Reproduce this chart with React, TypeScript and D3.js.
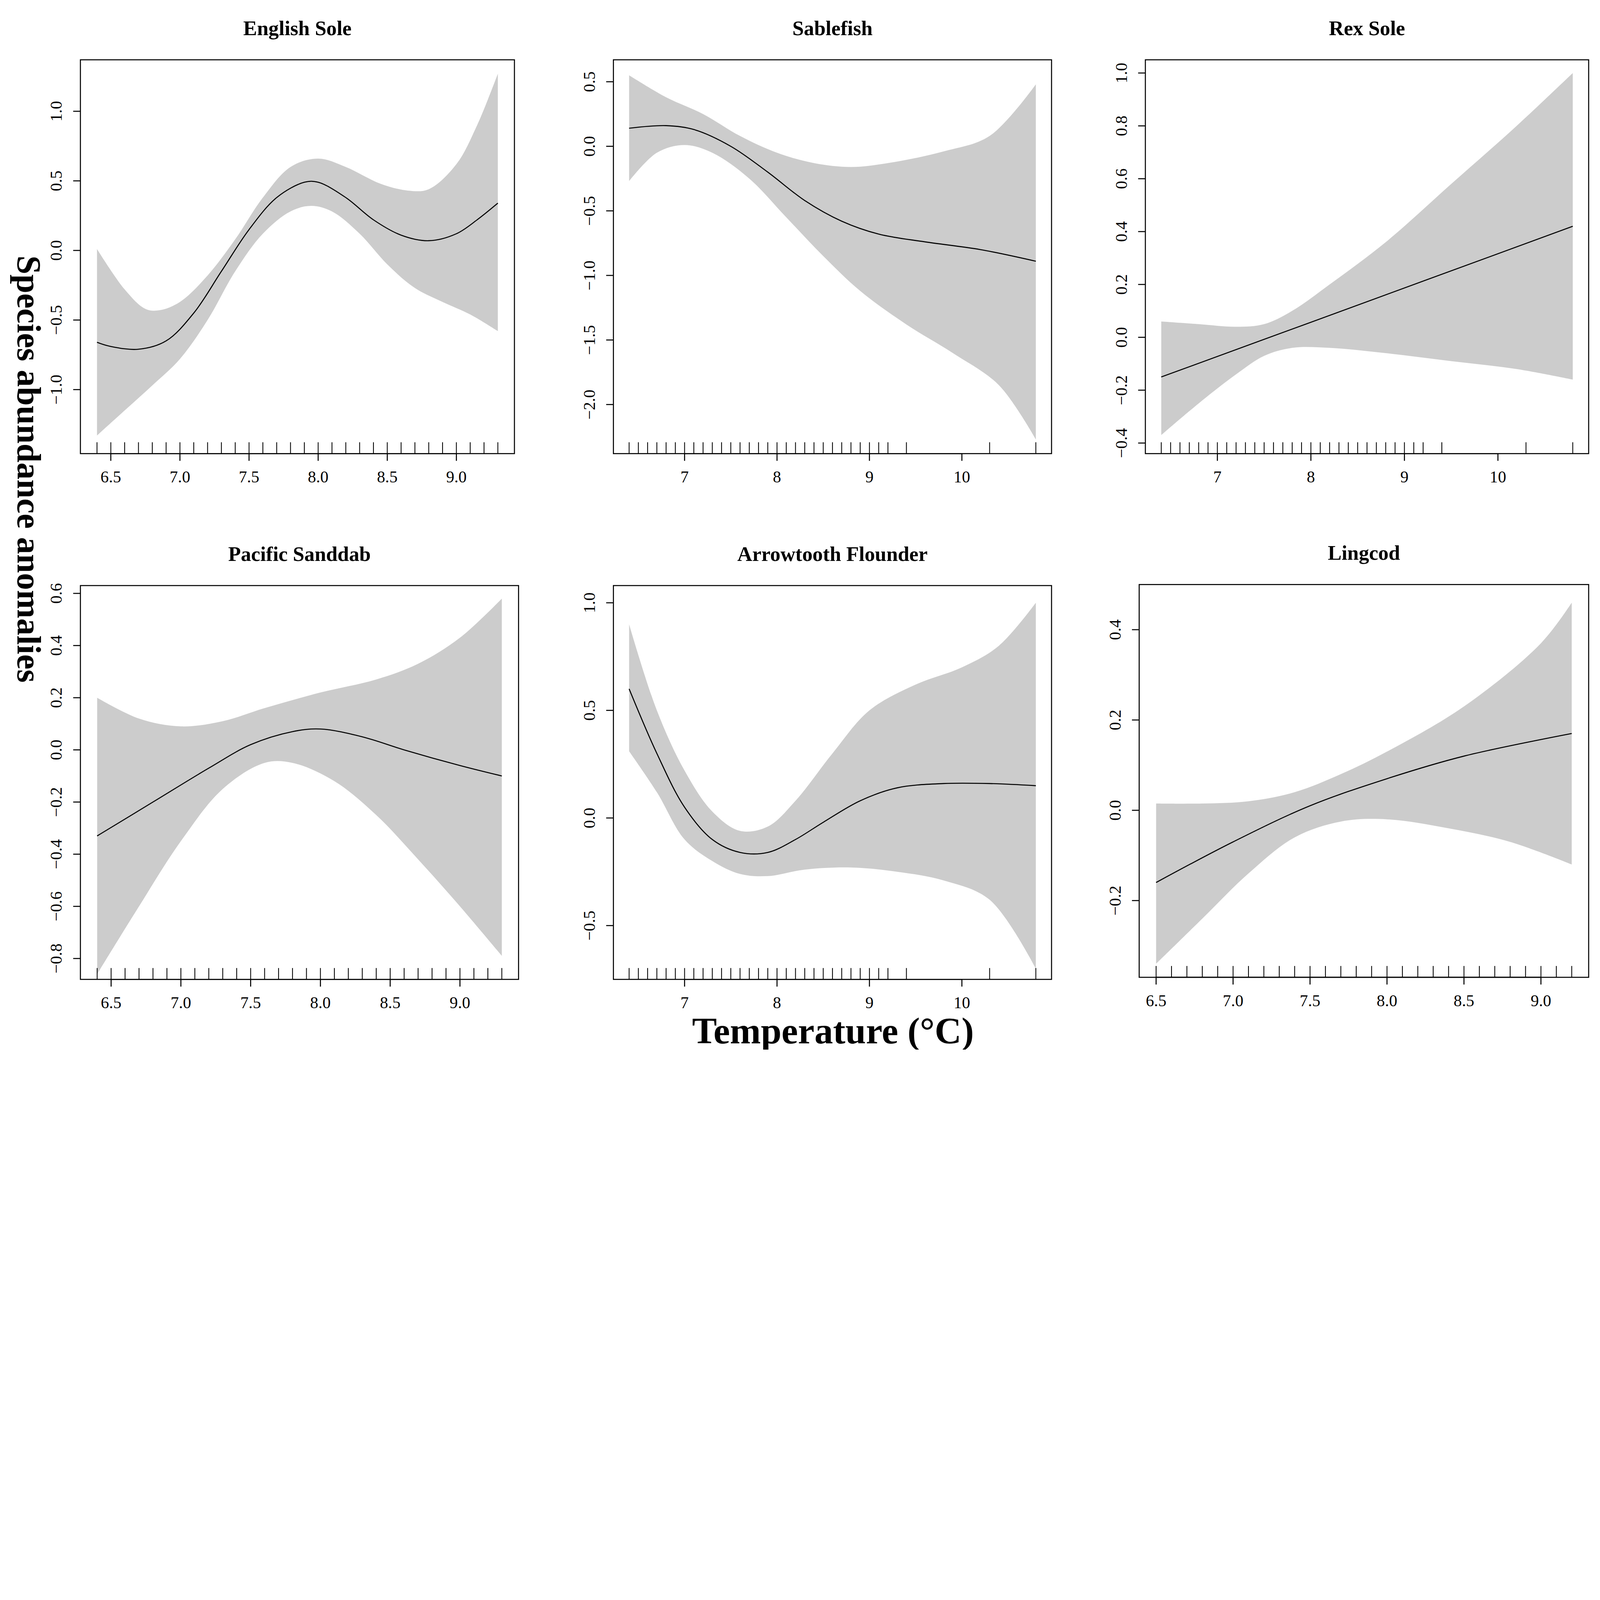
import * as d3 from 'd3'
import { useEffect } from 'react'

// Panel layout in a 1552 x 1018 design space, scaled to the page width
type P = [number, number]

const esX = [6.4, 6.5, 6.7, 6.9, 7.1, 7.3, 7.5, 7.7, 7.9, 8.0, 8.2, 8.4, 8.6, 8.8, 9.0, 9.15, 9.3]
const esFit = [-0.66, -0.69, -0.71, -0.65, -0.45, -0.15, 0.15, 0.38, 0.49, 0.49, 0.38, 0.22, 0.11, 0.07, 0.12, 0.22, 0.34]
const esUp: P[] = [[6.4, 0.01], [6.6, -0.28], [6.75, -0.42], [6.85, -0.43], [7.0, -0.37], [7.2, -0.18], [7.4, 0.08], [7.6, 0.38], [7.8, 0.6], [8.0, 0.66], [8.2, 0.6], [8.45, 0.48], [8.65, 0.43], [8.8, 0.44], [9.0, 0.62], [9.15, 0.9], [9.3, 1.27]]
const esLo: P[] = [[6.4, -1.33], [6.6, -1.15], [6.8, -0.97], [7.0, -0.78], [7.2, -0.5], [7.4, -0.15], [7.6, 0.12], [7.8, 0.28], [7.95, 0.32], [8.1, 0.28], [8.3, 0.12], [8.5, -0.1], [8.7, -0.27], [8.9, -0.37], [9.1, -0.46], [9.3, -0.58]]

const sbX = [6.4, 6.8, 7.1, 7.5, 7.9, 8.3, 8.7, 9.1, 9.6, 10.2, 10.8]
const sbFit = [0.14, 0.16, 0.13, 0.0, -0.2, -0.42, -0.58, -0.68, -0.74, -0.8, -0.89]
const sbUp: P[] = [[6.4, 0.55], [6.8, 0.38], [7.2, 0.25], [7.6, 0.08], [8.0, -0.05], [8.4, -0.13], [8.8, -0.16], [9.2, -0.13], [9.8, -0.04], [10.3, 0.08], [10.8, 0.48]]
const sbLo: P[] = [[6.4, -0.27], [6.7, -0.05], [7.0, 0.01], [7.3, -0.05], [7.7, -0.25], [8.1, -0.55], [8.5, -0.85], [8.9, -1.12], [9.4, -1.38], [9.9, -1.6], [10.4, -1.85], [10.8, -2.27]]

const rxX = [6.4, 8.0, 10.8]
const rxFit = [-0.15, 0.057, 0.42]
const rxUp: P[] = [[6.4, 0.06], [6.8, 0.05], [7.2, 0.04], [7.5, 0.05], [7.8, 0.1], [8.2, 0.2], [8.8, 0.36], [9.5, 0.58], [10.2, 0.8], [10.8, 1.0]]
const rxLo: P[] = [[6.4, -0.37], [6.8, -0.25], [7.2, -0.14], [7.5, -0.07], [7.8, -0.04], [8.2, -0.04], [8.8, -0.06], [9.5, -0.09], [10.2, -0.12], [10.8, -0.16]]

const psX = [6.4, 6.8, 7.2, 7.5, 7.8, 8.0, 8.3, 8.6, 9.0, 9.3]
const psFit = [-0.33, -0.2, -0.07, 0.02, 0.07, 0.08, 0.05, 0.0, -0.06, -0.1]
const psUp: P[] = [[6.4, 0.2], [6.7, 0.12], [7.0, 0.09], [7.3, 0.11], [7.6, 0.16], [8.0, 0.22], [8.4, 0.27], [8.7, 0.33], [9.0, 0.43], [9.3, 0.58]]
const psLo: P[] = [[6.4, -0.86], [6.7, -0.6], [7.0, -0.35], [7.3, -0.15], [7.6, -0.05], [7.8, -0.05], [8.1, -0.12], [8.4, -0.25], [8.7, -0.42], [9.0, -0.6], [9.3, -0.79]]

const afX = [6.4, 6.7, 7.0, 7.3, 7.6, 7.9, 8.2, 8.5, 8.9, 9.3, 9.8, 10.3, 10.8]
const afFit = [0.6, 0.3, 0.05, -0.1, -0.16, -0.16, -0.1, -0.02, 0.08, 0.14, 0.16, 0.16, 0.15]
const afUp: P[] = [[6.4, 0.9], [6.7, 0.5], [7.0, 0.22], [7.3, 0.03], [7.6, -0.06], [7.9, -0.04], [8.2, 0.08], [8.6, 0.3], [9.0, 0.5], [9.5, 0.62], [10.0, 0.7], [10.4, 0.8], [10.8, 1.0]]
const afLo: P[] = [[6.4, 0.31], [6.7, 0.12], [7.0, -0.1], [7.3, -0.2], [7.6, -0.26], [7.9, -0.27], [8.3, -0.24], [8.8, -0.23], [9.3, -0.25], [9.8, -0.29], [10.3, -0.38], [10.8, -0.7]]

const lcX = [6.5, 7.0, 7.5, 8.0, 8.5, 9.2]
const lcFit = [-0.16, -0.07, 0.01, 0.07, 0.12, 0.17]
const lcUp: P[] = [[6.5, 0.015], [6.8, 0.015], [7.1, 0.02], [7.4, 0.04], [7.7, 0.08], [8.0, 0.13], [8.5, 0.23], [9.0, 0.37], [9.2, 0.46]]
const lcLo: P[] = [[6.5, -0.34], [6.8, -0.24], [7.1, -0.14], [7.4, -0.06], [7.7, -0.025], [8.0, -0.02], [8.4, -0.04], [8.8, -0.07], [9.2, -0.12]]

const rugShort = [6.4, 6.5, 6.6, 6.7, 6.8, 6.9, 7.0, 7.1, 7.2, 7.3, 7.4, 7.5, 7.6, 7.7, 7.8, 7.9, 8.0, 8.1, 8.2, 8.3, 8.4, 8.5, 8.6, 8.7, 8.8, 8.9, 9.0, 9.1, 9.2, 9.3]
const rugLong = [6.4, 6.5, 6.6, 6.7, 6.8, 6.9, 7.0, 7.1, 7.2, 7.3, 7.4, 7.5, 7.6, 7.7, 7.8, 7.9, 8.0, 8.1, 8.2, 8.3, 8.4, 8.5, 8.6, 8.7, 8.8, 8.9, 9.0, 9.1, 9.2, 9.4, 10.3, 10.8]
const rugLing = [6.5, 6.6, 6.7, 6.8, 6.9, 7.0, 7.1, 7.2, 7.3, 7.4, 7.5, 7.6, 7.7, 7.8, 7.9, 8.0, 8.1, 8.2, 8.3, 8.4, 8.5, 8.6, 8.7, 8.8, 8.9, 9.0, 9.1, 9.2]

const ticksES = [6.5, 7.0, 7.5, 8.0, 8.5, 9.0]
const ticksLong = [7, 8, 9, 10]

interface Panel {
  title: string
  box: [number, number, number, number]
  xDom: [number, number]
  yDom: [number, number]
  xTicks: number[]
  yTicks: number[]
  fmtX: (v: number) => string
  fitX: number[]
  fit: number[]
  up: P[]
  lo: P[]
  rug: number[]
}

const f1 = d3.format('.1f')
const f0 = d3.format('d')
const fy = (v: number) => f1(v).replace('-', '\u2212')

const panels: Panel[] = [
  { title: 'English Sole', box: [78, 58, 499, 440], xDom: [6.28, 9.42], yDom: [-1.46, 1.37], xTicks: ticksES, yTicks: [-1, -0.5, 0, 0.5, 1], fmtX: f1, fitX: esX, fit: esFit, up: esUp, lo: esLo, rug: rugShort },
  { title: 'Sablefish', box: [595, 58, 1020, 440], xDom: [6.23, 10.97], yDom: [-2.38, 0.67], xTicks: ticksLong, yTicks: [-2, -1.5, -1, -0.5, 0, 0.5], fmtX: f0, fitX: sbX, fit: sbFit, up: sbUp, lo: sbLo, rug: rugLong },
  { title: 'Rex Sole', box: [1111, 58, 1541, 440], xDom: [6.23, 10.97], yDom: [-0.44, 1.05], xTicks: ticksLong, yTicks: [-0.4, -0.2, 0, 0.2, 0.4, 0.6, 0.8, 1.0], fmtX: f0, fitX: rxX, fit: rxFit, up: rxUp, lo: rxLo, rug: rugLong },
  { title: 'Pacific Sanddab', box: [78, 568, 503, 950], xDom: [6.28, 9.42], yDom: [-0.88, 0.63], xTicks: ticksES, yTicks: [-0.8, -0.6, -0.4, -0.2, 0, 0.2, 0.4, 0.6], fmtX: f1, fitX: psX, fit: psFit, up: psUp, lo: psLo, rug: rugShort },
  { title: 'Arrowtooth Flounder', box: [595, 568, 1020, 950], xDom: [6.23, 10.97], yDom: [-0.75, 1.08], xTicks: ticksLong, yTicks: [-0.5, 0, 0.5, 1.0], fmtX: f0, fitX: afX, fit: afFit, up: afUp, lo: afLo, rug: rugLong },
  { title: 'Lingcod', box: [1105, 567, 1541, 948], xDom: [6.39, 9.31], yDom: [-0.37, 0.5], xTicks: ticksES, yTicks: [-0.2, 0, 0.2, 0.4], fmtX: f1, fitX: lcX, fit: lcFit, up: lcUp, lo: lcLo, rug: rugLing },
]

function PanelView({ p }: { p: Panel }) {
  const [x0, y0, x1, y1] = p.box
  const x = d3.scaleLinear().domain(p.xDom).range([x0, x1])
  const y = d3.scaleLinear().domain(p.yDom).range([y1, y0])
  const pt = d3.line<P>().x((d) => x(d[0])).y((d) => y(d[1])).curve(d3.curveCatmullRom)
  const area = pt(p.up)! + 'L' + pt([...p.lo].reverse())!.slice(1) + 'Z'
  const fitLine = d3.line<number>().x((_, i) => x(p.fitX[i])).y((d) => y(d)).curve(d3.curveCatmullRom)(p.fit)!
  const tick = 7
  return (
    <g>
      <text x={(x0 + x1) / 2} y={y0 - 24} textAnchor="middle" fontWeight="bold" fontSize={20}>{p.title}</text>
      <path d={area} fill="#cccccc" />
      <path d={fitLine} fill="none" stroke="#000" strokeWidth={1} />
      {p.rug.map((r) => (
        <line key={r} x1={x(r)} x2={x(r)} y1={y1} y2={y1 - 11} stroke="#000" strokeWidth={0.8} />
      ))}
      <rect x={x0} y={y0} width={x1 - x0} height={y1 - y0} fill="none" stroke="#000" strokeWidth={1} />
      <line x1={x(p.xTicks[0])} x2={x(p.xTicks[p.xTicks.length - 1])} y1={y1} y2={y1} stroke="#000" />
      {p.xTicks.map((t) => (
        <g key={t}>
          <line x1={x(t)} x2={x(t)} y1={y1} y2={y1 + tick} stroke="#000" />
          <text x={x(t)} y={y1 + 28} textAnchor="middle" fontSize={16}>{p.fmtX(t)}</text>
        </g>
      ))}
      {p.yTicks.map((t) => (
        <g key={t}>
          <line x1={x0 - tick} x2={x0} y1={y(t)} y2={y(t)} stroke="#000" />
          <text transform={`translate(${x0 - 18},${y(t)}) rotate(-90)`} textAnchor="middle" fontSize={16}>{fy(t)}</text>
        </g>
      ))}
    </g>
  )
}

export default function App() {
  useEffect(() => {
    document.body.style.margin = '0'
  }, [])
  return (
    <svg width="100%" viewBox="0 0 1552 1018" style={{ display: 'block', background: '#fff' }} fontFamily="'Liberation Serif', 'DejaVu Serif', serif">
      <rect width={1552} height={1018} fill="#fff" />
      {panels.map((p) => (
        <PanelView key={p.title} p={p} />
      ))}
      <text transform="translate(17,455) rotate(90)" textAnchor="middle" fontWeight="bold" fontSize={33}>Species abundance anomalies</text>
      <text x={808} y={1012} textAnchor="middle" fontWeight="bold" fontSize={36}>Temperature (°C)</text>
    </svg>
  )
}
